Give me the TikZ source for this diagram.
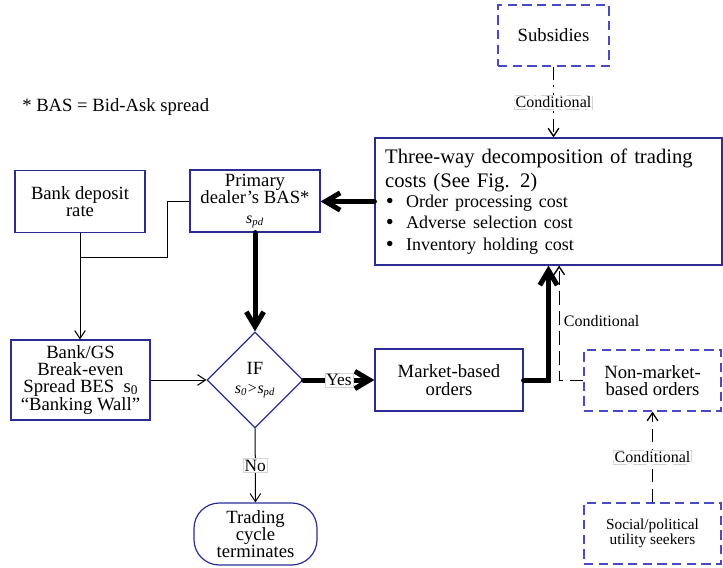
\documentclass[tikz,border=0pt]{standalone}
\usepackage{fontspec}
\setmainfont{Liberation Serif}
\usepackage{tikz}
\usetikzlibrary{shapes.geometric, arrows.meta, positioning, calc}
\definecolor{boxcolor}{HTML}{2B2B96}
\definecolor{dashcolor}{HTML}{4A4AC4}
\definecolor{tagcolor}{HTML}{D4D4D4}
\newcommand{\costitem}[1]{{\fontsize{13.5}{15.5}\selectfont\hspace{0.5pt}\makebox[15.25pt][l]{\raisebox{-0.5pt}{\fontsize{17}{15}\selectfont\textbullet}}#1}}

\begin{document}
\begin{tikzpicture}[
    x=0.75pt, y=-0.75pt,
    box/.style={draw=boxcolor, line width=0.9pt, align=center, inner sep=0pt, font=\fontsize{14}{13}\selectfont},
    dashbox/.style={box, draw=dashcolor, dash pattern=on 7pt off 4pt},
    decision/.style={diamond, draw=boxcolor, line width=0.9pt, aspect=1, inner sep=0pt, minimum width=72pt, minimum height=72pt, align=center, font=\fontsize{14}{13}\selectfont},
    terminal/.style={box, rounded corners=19pt},
    plain/.style={line width=0.75pt},
    flow/.style={plain, -{Straight Barb[length=6pt,width=8pt]}},
    mainflow/.style={line width=3.75pt, line cap=round, -{Straight Barb[length=11pt,width=13pt]}},
    condflow/.style={line width=1pt, dash pattern=on 10pt off 5pt, -{Straight Barb[length=6pt,width=8pt]}},
    subflow/.style={line width=1pt, dash pattern=on 10pt off 4pt on 1.5pt off 4pt, -{Straight Barb[length=6pt,width=8pt]}},
    tag/.style={fill=white, draw=tagcolor, line width=0.4pt, inner sep=1pt, font=\fontsize{12}{12}\selectfont}
]
\useasboundingbox (0,0) rectangle (723,567);

% Note
\node[anchor=west, inner sep=0pt, font=\fontsize{14}{14}\selectfont] (note) at (22,107) {* BAS = Bid-Ask spread};

% Left part
\node[box, minimum width=97.5pt, minimum height=46.5pt] (deposit) at (80,201.5) {Bank deposit\\rate};
\node[box, minimum width=97.5pt, minimum height=46.5pt] (dealer) at (255,201) {Primary\\dealer’s BAS*\\[2pt]{\fontsize{12}{12}\selectfont\textit{s}\textsubscript{\textit{pd}}}};
\node[box, minimum width=104.25pt, minimum height=60pt] (bes) at (80.5,380) {Bank/GS\\Break-even\\Spread BES~ s\raisebox{-1.5pt}{\fontsize{10}{10}\selectfont 0}\\[0.5pt]“Banking Wall”};
\node[decision] (check) at (255,380) {IF\\[1pt]{\fontsize{12}{12}\selectfont\textit{s}\textsubscript{\textit{0}}\kern0.5pt>\kern0.5pt\textit{s}\textsubscript{\textit{pd}}}};
\node[terminal, minimum width=92.25pt, minimum height=46.5pt] (stop) at (255.5,534) {Trading\\cycle\\terminates};

% Right part
\node[box, minimum width=111pt, minimum height=46.5pt] (market) at (449,380) {Market-based\\orders};
\node[box, align=left, text width=245pt, inner xsep=7.6pt, minimum height=95.25pt, font=\fontsize{15.5}{15.5}\selectfont] (costs) at (548.5,201.5) {Three-way decomposition of trading\\[2.5pt]
costs (See Fig. 2)\\
\costitem{Order processing cost}\\
\costitem{Adverse selection cost}\\[1pt]
\costitem{Inventory holding cost}};
\node[dashbox, minimum width=83.25pt, minimum height=45.75pt] (subsidies) at (553.5,35.5) {Subsidies};
\node[dashbox, minimum width=102.75pt, minimum height=45.75pt] (nonmarket) at (652.5,380.5) {Non-market-\\based orders};
\node[dashbox, minimum width=102.75pt, minimum height=45.75pt, font=\fontsize{11.5}{11.5}\selectfont] (social) at (652.5,533.5) {Social/political\\utility seekers};

% Connectors
\coordinate (split) at (80,257);
\draw[flow] (deposit.south) -- (deposit.south |- bes.north);
\draw[plain] (dealer.west) -- ++(-22,0) |- (split);
\draw[flow] (bes) -- (check);
\draw[mainflow] (dealer) -- (check);
\draw[mainflow] (check) -- node[tag, font=\fontsize{13}{13}\selectfont] {Yes} (market);
\draw[flow] (check) -- node[tag, font=\fontsize{13}{13}\selectfont] {No} (stop);
\draw[mainflow] (costs.west) -- (costs.west -| dealer.east);
\draw[mainflow] (market.east) -| (costs.south);
\draw[condflow] (nonmarket.west) -| ([xshift=8pt]costs.south) node[pos=0.76, right, inner sep=3pt, font=\fontsize{12}{12}\selectfont] {Conditional};
\draw[condflow] (social) -- node[tag] {Conditional} (nonmarket);
\draw[subflow] (subsidies) -- node[tag] {Conditional} (subsidies.south |- costs.north);
\end{tikzpicture}
\end{document}
